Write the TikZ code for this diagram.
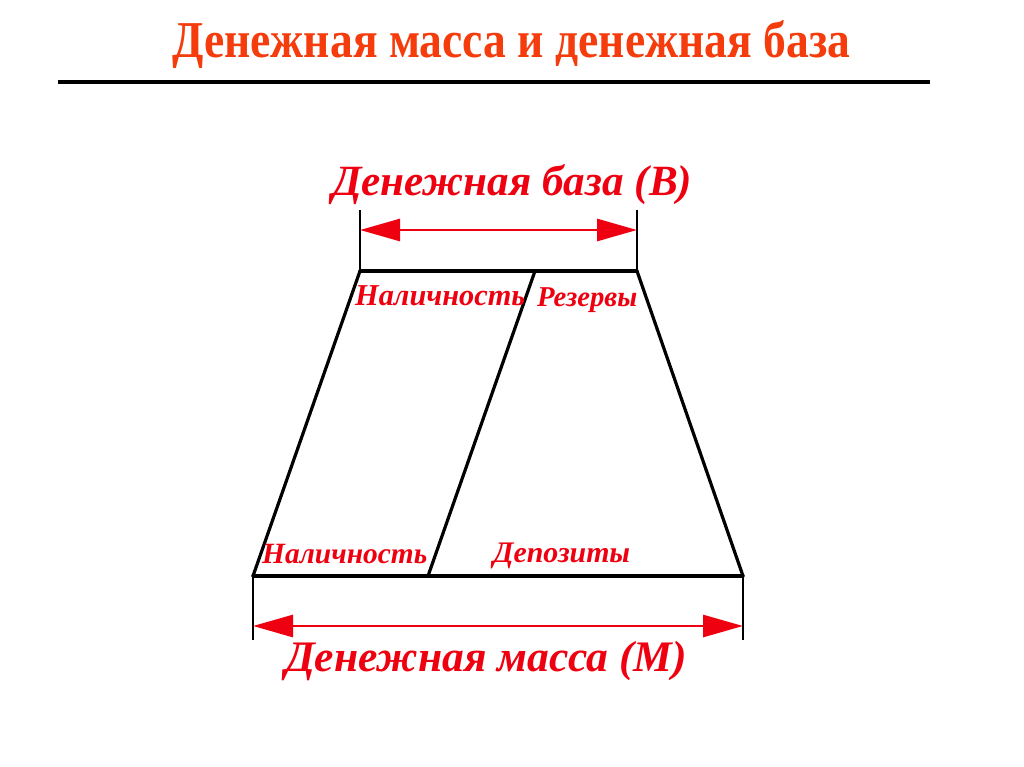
\documentclass[tikz,border=0pt]{standalone}
\usepackage{fontspec}
\setmainfont{Liberation Serif}
\usetikzlibrary{arrows.meta}
\definecolor{titlered}{HTML}{F53C0C}
\definecolor{labred}{HTML}{EE0010}
\newcommand\fitw[2]{\resizebox{#1}{!}{#2}}
\tikzset{
  edge/.style={line width=3.2pt, line cap=round, black},
  tick/.style={line width=2.6pt, black},
  measure/.style={line width=2.8pt, labred, {Triangle[length=40pt,width=22pt]}-{Triangle[length=40pt,width=22pt]}},
  lab/.style={inner sep=0pt, anchor=base west, text=labred, font=\bfseries\itshape},
}
\begin{document}
\begin{tikzpicture}[x=1pt,y=-1pt]
\useasboundingbox[fill=white] (0,0) rectangle (1024,767);
% title
\node[inner sep=0pt, anchor=base west, text=titlered] (title) at (172,58) {\resizebox{678pt}{37pt}{\bfseries Денежная масса и денежная база}};
\coordinate (ruleL) at (58,82);
\coordinate (ruleR) at (930,82);
\draw[line width=4pt, black] (ruleL) -- (ruleR);
% geometry
\coordinate (tl) at (360,271);
\coordinate (tm) at (535,271);
\coordinate (tr) at (637,271);
\coordinate (bl) at (253,576);
\coordinate (bm) at (428,576);
\coordinate (br) at (743,576);
\coordinate (tlu) at (360,210);
\coordinate (tru) at (637,210);
\coordinate (bld) at (253,640);
\coordinate (brd) at (743,640);
\coordinate (atl) at (360,230);
\coordinate (atr) at (637,230);
\coordinate (abl) at (253,626);
\coordinate (abr) at (743,626);
\draw[edge] (tl) -- (tr);
\draw[edge] (bl) -- (br);
\draw[edge] (tl) -- (bl);
\draw[edge] (tm) -- (bm);
\draw[edge] (tr) -- (br);
\draw[tick] (tlu) -- (tl);
\draw[tick] (tru) -- (tr);
\draw[tick] (bl) -- (bld);
\draw[tick] (br) -- (brd);
\draw[measure] (atl) -- (atr);
\draw[measure] (abl) -- (abr);
% labels
\node[lab] (base) at (332,196) {\fitw{360pt}{Денежная база (B)}};
\node[lab] (mass) at (285,671) {\fitw{402pt}{Денежная масса (M)}};
\node[lab] (cash1) at (355,305) {\fitw{170pt}{Наличность}};
\node[lab] (res) at (537,306) {\fitw{100pt}{Резервы}};
\node[lab] (cash2) at (262,563) {\fitw{165pt}{Наличность}};
\node[lab] (dep) at (493,562) {\fitw{137pt}{Депозиты}};
\end{tikzpicture}
\end{document}
